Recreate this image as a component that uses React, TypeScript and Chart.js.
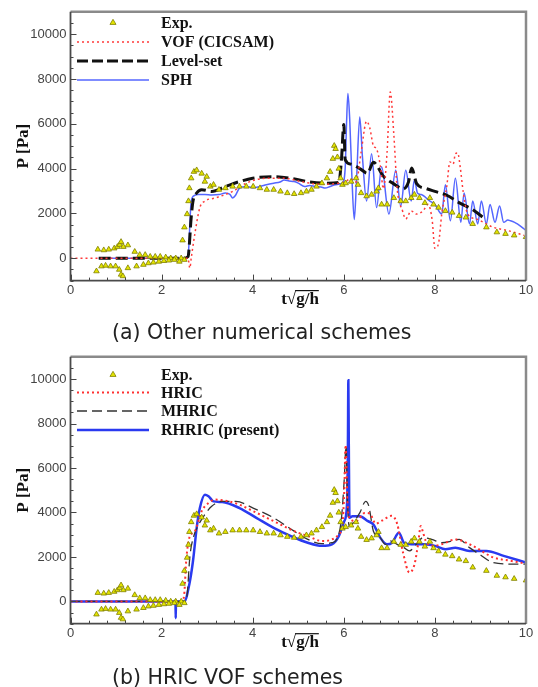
import { useEffect, useRef } from "react";
import { Chart, registerables } from "chart.js";

Chart.register(...registerables);

// ---------- data ----------
const xTicks = [0, 2, 4, 6, 8, 10];
const yTicks = [0, 2000, 4000, 6000, 8000, 10000];

const expT = [
  0.6, 0.73, 0.84, 0.96, 1.03, 1.08, 1.11, 1.16, 1.26, 1.41, 1.52, 1.64, 1.75, 1.86, 1.97, 2.09, 2.2, 2.31, 2.43,
  0.57, 0.68, 0.77, 0.88, 0.99, 1.07, 1.11, 1.15, 1.26, 1.45, 1.6, 1.71, 1.82, 1.94, 2.05, 2.16, 2.28, 2.39, 2.5,
  2.46, 2.5, 2.56, 2.59, 2.61, 2.65, 2.71, 2.77, 2.88, 2.95, 2.99, 3.07, 3.14, 3.26, 3.4, 3.56, 3.71, 3.86, 4.01,
  4.16, 4.31, 4.46, 4.61, 4.76, 4.91, 5.06, 5.18, 5.29, 5.4, 5.52, 5.63, 5.7, 5.76, 5.79, 5.82, 5.86, 5.89, 5.93,
  5.97, 6.04, 6.16, 6.27, 6.31, 6.38, 6.5, 6.61, 6.72, 6.76, 6.83, 6.95, 7.1, 7.25, 7.36, 7.48, 7.55, 7.66, 7.78,
  7.89, 7.97, 8.08, 8.23, 8.38, 8.53, 8.68, 8.83, 9.13, 9.36, 9.55, 9.74, 10.0,
];
const expP = [
  390, 360, 390, 440, 510, 600, 730, 510, 580, 290, 150, 150, 70, 70, 70, 40, 0, 0, 0,
  -580, -360, -330, -360, -360, -510, -730, -800, -440, -360, -290, -220, -190, -150, -120, -100, -70, -150, -70,
  800, 1380, 1970, 2550, 3130, 3570, 3860, 3930, 3780, 3420, 3640, 3200, 3280, 3060, 3130, 3200, 3200, 3200, 3200,
  3130, 3060, 3060, 2980, 2910, 2870, 2910, 2980, 3060, 3200, 3350, 3570, 3860, 4440, 5020, 4880, 4510, 4000, 3570,
  3280, 3350, 3420, 3570, 3280, 2910, 2770, 2840, 2980, 3130, 2400, 2400, 2690, 2550, 2550, 2690, 2840, 2690, 2470,
  2690, 2400, 2260, 2110, 2040, 1890, 1820, 1530, 1380, 1160, 1090, 1020, 950,
];

const cicsamT = [0, 2.58, 2.62, 2.65, 2.73, 2.84, 2.95, 3.18, 3.56, 3.86, 4.31, 4.69, 5.06, 5.52, 5.89, 6.04, 6.14, 6.27, 6.38, 6.5, 6.57, 6.65, 6.72, 6.8, 6.87, 6.95, 7.02, 7.1, 7.17, 7.29, 7.36, 7.48, 7.59, 7.74, 7.85, 7.94, 8.0, 8.08, 8.15, 8.26, 8.33, 8.4, 8.45, 8.5, 8.56, 8.62, 8.72, 8.91, 9.28, 9.59, 9.96];
const cicsamP = [0, 0, -440, 0, 1090, 2260, 2550, 2690, 2980, 3350, 3570, 3570, 3420, 3300, 3350, 3420, 3550, 3400, 4730, 6110, 5820, 5020, 4880, 4150, 3100, 4730, 7420, 5460, 3130, 2110, 1750, 2110, 1970, 2110, 2400, 1700, 440, 660, 1970, 3200, 4300, 4200, 4660, 4700, 4000, 2980, 1970, 1750, 1380, 1240, 1020];

const levelT = [0.62, 2.5, 2.58, 2.65, 2.69, 2.77, 2.88, 3.1, 3.4, 3.71, 4.0, 4.46, 4.84, 5.21, 5.59, 5.89, 5.95, 6.0, 6.03, 6.15, 6.36, 6.52, 6.65, 6.87, 7.09, 7.31, 7.42, 7.49, 7.6, 7.82, 8.04, 8.26, 8.55, 8.85, 9.07];
const levelP = [0, 0, 70, 1820, 2550, 2910, 3060, 2980, 3200, 3420, 3570, 3640, 3570, 3420, 3350, 3380, 4440, 5970, 4400, 4200, 3990, 3790, 4280, 3660, 3330, 3100, 3400, 4030, 3330, 3100, 2960, 2810, 2460, 2140, 1800];

const sphT = [0.62, 2.5, 2.58, 2.65, 2.72, 2.8, 2.95, 3.1, 3.26, 3.4, 3.5, 3.56, 3.62, 3.71, 3.86, 4.0, 4.16, 4.3, 4.46, 4.6, 4.69, 4.8, 4.91, 5.0, 5.14, 5.25, 5.37, 5.5, 5.59, 5.7, 5.82, 5.97, 6.03, 6.06, 6.09, 6.13, 6.18, 6.23, 6.28, 6.35, 6.41, 6.5, 6.61, 6.72, 6.83, 6.99, 7.14, 7.25, 7.36, 7.48, 7.55, 7.62, 7.7, 7.89, 8.0, 8.15, 8.23, 8.34, 8.45, 8.57, 8.64, 8.76, 8.83, 8.94, 9.02, 9.13, 9.21, 9.32, 9.42, 9.51, 9.6, 9.66, 9.75, 9.81, 9.9, 10.0];
const sphP = [0, 0, 100, 2550, 2800, 2840, 2840, 2820, 2840, 2910, 2850, 2690, 2800, 3130, 3200, 3150, 3200, 3280, 3350, 3400, 3490, 3450, 3420, 3350, 3200, 3250, 3200, 3180, 3130, 3200, 3280, 3350, 4000, 6000, 7350, 6200, 3500, 1730, 3500, 6300, 4500, 2550, 4660, 2260, 4080, 1970, 3930, 2330, 3930, 2550, 3500, 2900, 2840, 2550, 2400, 1970, 3280, 1670, 3570, 1600, 2910, 1530, 2550, 1530, 2550, 1530, 2400, 1600, 2330, 1600, 1700, 1670, 1600, 1530, 1400, 1240];

const hricT = [0, 2.45, 2.5, 2.54, 2.61, 2.73, 2.88, 3.03, 3.18, 3.41, 3.71, 4.01, 4.31, 4.61, 4.91, 5.21, 5.52, 5.74, 5.89, 5.97, 6.01, 6.04, 6.08, 6.12, 6.27, 6.46, 6.57, 6.7, 6.85, 7.05, 7.17, 7.3, 7.44, 7.55, 7.63, 7.69, 7.74, 7.8, 7.95, 8.15, 8.45, 8.83, 9.28, 9.66, 10];
const hricP = [0, 0, 400, 1830, 2870, 3160, 4060, 4430, 4580, 4530, 4350, 4060, 3760, 3460, 3160, 2940, 2720, 2790, 3020, 3460, 4950, 7030, 4500, 3760, 3610, 3980, 3950, 3500, 3650, 3850, 3500, 2200, 1300, 1650, 2570, 3390, 3100, 2720, 2500, 2570, 2790, 2500, 1980, 1830, 1700];

const mhricT = [0, 2.5, 2.56, 2.62, 2.7, 2.8, 2.95, 3.1, 3.33, 3.63, 4.01, 4.46, 4.91, 5.21, 5.52, 5.74, 5.89, 5.95, 6.01, 6.05, 6.08, 6.12, 6.23, 6.35, 6.48, 6.55, 6.65, 6.8, 6.91, 7.02, 7.17, 7.32, 7.44, 7.59, 7.74, 7.93, 8.15, 8.38, 8.53, 8.76, 8.98, 9.28, 9.74, 10];
const mhricP = [0, 0, 300, 2000, 2900, 3400, 3910, 4280, 4500, 4500, 4200, 3760, 3160, 2790, 2600, 2640, 3020, 3760, 5500, 7000, 4500, 3390, 3610, 3980, 4500, 4280, 3160, 2870, 2570, 2720, 2570, 2420, 2270, 2570, 2870, 2790, 2640, 2720, 2790, 2420, 2120, 1750, 1680, 1680];

const rhricT = [0, 2.305, 2.31, 2.315, 2.5, 2.61, 2.69, 2.77, 2.84, 2.95, 3.03, 3.14, 3.33, 3.71, 4.08, 4.46, 4.84, 5.21, 5.52, 5.74, 5.89, 6.01, 6.07, 6.09, 6.1, 6.11, 6.125, 6.19, 6.35, 6.53, 6.65, 6.8, 6.95, 7.06, 7.21, 7.32, 7.48, 7.78, 8.0, 8.23, 8.45, 8.76, 9.13, 9.51, 10];
const rhricP = [0, 0, -750, 0, 0, 790, 1830, 3310, 4200, 4800, 4730, 4500, 4470, 4200, 3760, 3310, 2940, 2640, 2500, 2570, 2940, 3610, 4350, 7000, 9950, 7000, 3760, 3830, 3830, 3610, 3460, 2870, 2570, 2640, 3090, 2640, 2570, 2570, 2500, 2350, 2420, 2270, 2270, 2050, 1750];

// ---------- helpers ----------
const pts = (t: number[], p: number[]) => t.map((x, i) => ({ x, y: p[i] }));

const EXP_FILL = "#e4e400";
const EXP_EDGE = "#7f7f00";

const expDataset = () => ({
  label: "Exp.",
  data: pts(expT, expP),
  showLine: false,
  pointStyle: "triangle",
  pointRadius: 3.2,
  pointBackgroundColor: EXP_FILL,
  pointBorderColor: EXP_EDGE,
  pointBorderWidth: 0.8,
});

const lineDataset = (label: string, t: number[], p: number[], color: string, width: number, dash: number[]) => ({
  label,
  data: pts(t, p),
  showLine: true,
  borderColor: color,
  borderWidth: width,
  borderDash: dash,
  pointRadius: 0,
  fill: false,
  cubicInterpolationMode: "monotone",
});

type LegendItem = { label: string; kind: "point" | "line"; color?: string; width?: number; dash?: number[] };

const decorPlugin = {
  id: "decor",
  afterDraw(chart: any, _args: any, opts: any) {
    const { ctx, chartArea: a } = chart;
    const xs = chart.scales.x;
    const ys = chart.scales.y;
    ctx.save();
    // inward ticks
    ctx.strokeStyle = "#444";
    ctx.lineWidth = 1;
    for (let i = 0; i <= 25; i++) {
      const px = Math.round(xs.getPixelForValue(i * 0.4)) + 0.5;
      const len = i % 5 === 0 ? 6 : 3;
      ctx.beginPath();
      ctx.moveTo(px, a.bottom);
      ctx.lineTo(px, a.bottom - len);
      ctx.stroke();
    }
    for (let v = -1000; v <= 11000; v += 500) {
      const py = Math.round(ys.getPixelForValue(v)) + 0.5;
      const major = v % 2000 === 0 && v >= 0 && v <= 10000;
      const len = major ? 6 : 3;
      ctx.beginPath();
      ctx.moveTo(a.left, py);
      ctx.lineTo(a.left + len, py);
      ctx.stroke();
    }
    // frame
    ctx.strokeStyle = "#8a8a8a";
    ctx.lineWidth = 2.5;
    ctx.beginPath();
    ctx.moveTo(a.left, a.top);
    ctx.lineTo(a.right, a.top);
    ctx.lineTo(a.right, a.bottom);
    ctx.stroke();
    ctx.strokeStyle = "#4a4a4a";
    ctx.lineWidth = 1.8;
    ctx.beginPath();
    ctx.moveTo(a.left, a.top);
    ctx.lineTo(a.left, a.bottom);
    ctx.lineTo(a.right, a.bottom);
    ctx.stroke();

    // legend
    const items: LegendItem[] = opts.items || [];
    const rows: number[] = opts.rows || [];
    ctx.font = 'bold 16px "Liberation Serif"';
    ctx.textBaseline = "middle";
    ctx.textAlign = "left";
    items.forEach((it, i) => {
      const y = rows[i];
      if (it.kind === "point") {
        const cx = 113, cy = y - 0.5, r = 3.2;
        ctx.beginPath();
        ctx.moveTo(cx, cy - r);
        ctx.lineTo(cx + r * 0.95, cy + r * 0.6);
        ctx.lineTo(cx - r * 0.95, cy + r * 0.6);
        ctx.closePath();
        ctx.fillStyle = EXP_FILL;
        ctx.fill();
        ctx.strokeStyle = EXP_EDGE;
        ctx.lineWidth = 0.8;
        ctx.setLineDash([]);
        ctx.stroke();
      } else {
        ctx.strokeStyle = it.color;
        ctx.lineWidth = it.width;
        ctx.setLineDash(it.dash || []);
        ctx.beginPath();
        ctx.moveTo(77, y);
        ctx.lineTo(149, y);
        ctx.stroke();
        ctx.setLineDash([]);
      }
      ctx.fillStyle = "#111";
      ctx.fillText(it.label, 161, y + 1);
    });

    // y title
    ctx.save();
    ctx.translate(23.5, (a.top + a.bottom) / 2);
    ctx.rotate(-Math.PI / 2);
    ctx.textAlign = "center";
    ctx.textBaseline = "middle";
    ctx.font = 'bold 17px "Liberation Serif"';
    ctx.fillStyle = "#111";
    ctx.fillText("P [Pa]", 0, 0);
    ctx.restore();

    // x title  t√(g/h)
    ctx.font = 'bold 17px "Liberation Serif"';
    ctx.fillStyle = "#111";
    ctx.textBaseline = "alphabetic";
    ctx.textAlign = "left";
    const p1 = "t", p2 = "\u221A", p3 = "g/h";
    const w1 = ctx.measureText(p1).width;
    const w2 = ctx.measureText(p2).width;
    const w3 = ctx.measureText(p3).width;
    const cx = 300;
    const base = a.bottom + 23.5;
    const x0 = cx - (w1 + w2 + w3) / 2;
    ctx.fillText(p1, x0, base);
    ctx.fillText(p2, x0 + w1, base);
    ctx.fillText(p3, x0 + w1 + w2, base);
    ctx.strokeStyle = "#111";
    ctx.lineWidth = 1.2;
    ctx.beginPath();
    ctx.moveTo(x0 + w1 + w2 - 1, base - 13.5);
    ctx.lineTo(x0 + w1 + w2 + w3, base - 13.5);
    ctx.stroke();
    ctx.restore();
  },
};

function Panel(props: {
  top: number;
  height: number;
  padTop: number;
  plotBottom: number;
  datasets: any[];
  legend: LegendItem[];
  rows: number[];
}) {
  const ref = useRef<HTMLCanvasElement | null>(null);
  useEffect(() => {
    if (!ref.current) return;
    const chart = new Chart(ref.current, {
      type: "scatter",
      data: { datasets: props.datasets },
      options: {
        animation: false,
        responsive: false,
        maintainAspectRatio: false,
        layout: { padding: { top: props.padTop, right: 12, left: 0, bottom: 0 } },
        plugins: {
          legend: { display: false },
          tooltip: { enabled: false },
          decor: { items: props.legend, rows: props.rows },
        } as any,
        scales: {
          x: {
            type: "linear",
            min: 0,
            max: 10,
            grid: { display: false, drawTicks: false },
            border: { display: false },
            afterBuildTicks: (s: any) => {
              s.ticks = xTicks.map((v) => ({ value: v }));
            },
            afterFit: (s: any) => {
              s.height = props.height - props.plotBottom;
            },
            ticks: {
              padding: 2,
              color: "#444",
              font: { family: '"Liberation Sans", Arial', size: 13 },
              callback: (v: any) => String(v),
              maxRotation: 0,
            },
          },
          y: {
            type: "linear",
            min: -1000,
            max: 11000,
            grid: { display: false, drawTicks: false },
            border: { display: false },
            afterBuildTicks: (s: any) => {
              s.ticks = yTicks.map((v) => ({ value: v }));
            },
            afterFit: (s: any) => {
              s.width = 70.5;
            },
            ticks: {
              padding: 4,
              color: "#444",
              font: { family: '"Liberation Sans", Arial', size: 13 },
              callback: (v: any) => String(v),
            },
          },
        },
      } as any,
      plugins: [decorPlugin as any],
    });
    return () => chart.destroy();
  }, []);
  return (
    <canvas
      ref={ref}
      width={538}
      height={props.height}
      style={{ position: "absolute", left: 0, top: props.top, width: 538, height: props.height }}
    />
  );
}

const captionStyle = (top: number) => ({
  position: "absolute" as const,
  left: 112,
  top,
  font: '20.5px "DejaVu Sans", sans-serif',
  lineHeight: "24px",
  color: "#222",
  whiteSpace: "nowrap" as const,
});

export default function App() {
  useEffect(() => {
    document.body.style.margin = "0";
    document.body.style.background = "#fff";
  }, []);

  const topSets = [
    expDataset(),
    lineDataset("VOF (CICSAM)", cicsamT, cicsamP, "#ff3a3a", 1.5, [2, 3]),
    lineDataset("Level-set", levelT, levelP, "#111111", 3, [12, 5]),
    lineDataset("SPH", sphT, sphP, "#5466ff", 1.5, []),
  ];
  const botSets = [
    expDataset(),
    lineDataset("HRIC", hricT, hricP, "#ff3030", 2, [2, 3]),
    lineDataset("MHRIC", mhricT, mhricP, "#333333", 1.3, [10, 5]),
    lineDataset("RHRIC (present)", rhricT, rhricP, "#2a3af0", 2.5, []),
  ];

  const topLegend: LegendItem[] = [
    { label: "Exp.", kind: "point" },
    { label: "VOF (CICSAM)", kind: "line", color: "#ff3a3a", width: 1.5, dash: [2, 3] },
    { label: "Level-set", kind: "line", color: "#111111", width: 3, dash: [11, 4] },
    { label: "SPH", kind: "line", color: "#5466ff", width: 1.5, dash: [] },
  ];
  const botLegend: LegendItem[] = [
    { label: "Exp.", kind: "point" },
    { label: "HRIC", kind: "line", color: "#ff3030", width: 2, dash: [2, 3] },
    { label: "MHRIC", kind: "line", color: "#333333", width: 1.3, dash: [10, 5] },
    { label: "RHRIC (present)", kind: "line", color: "#2a3af0", width: 2.5, dash: [] },
  ];

  return (
    <div style={{ position: "relative", width: 538, height: 687, background: "#fff" }}>
      <Panel top={0} height={345} padTop={6.5} plotBottom={280.6} datasets={topSets} legend={topLegend} rows={[23, 42, 61, 80]} />
      <div style={captionStyle(320)}>(a) Other numerical schemes</div>
      <Panel top={345} height={342} padTop={11.7} plotBottom={278.7} datasets={botSets} legend={botLegend} rows={[30, 47.5, 66, 85]} />
      <div style={captionStyle(665)}>(b) HRIC VOF schemes</div>
    </div>
  );
}
